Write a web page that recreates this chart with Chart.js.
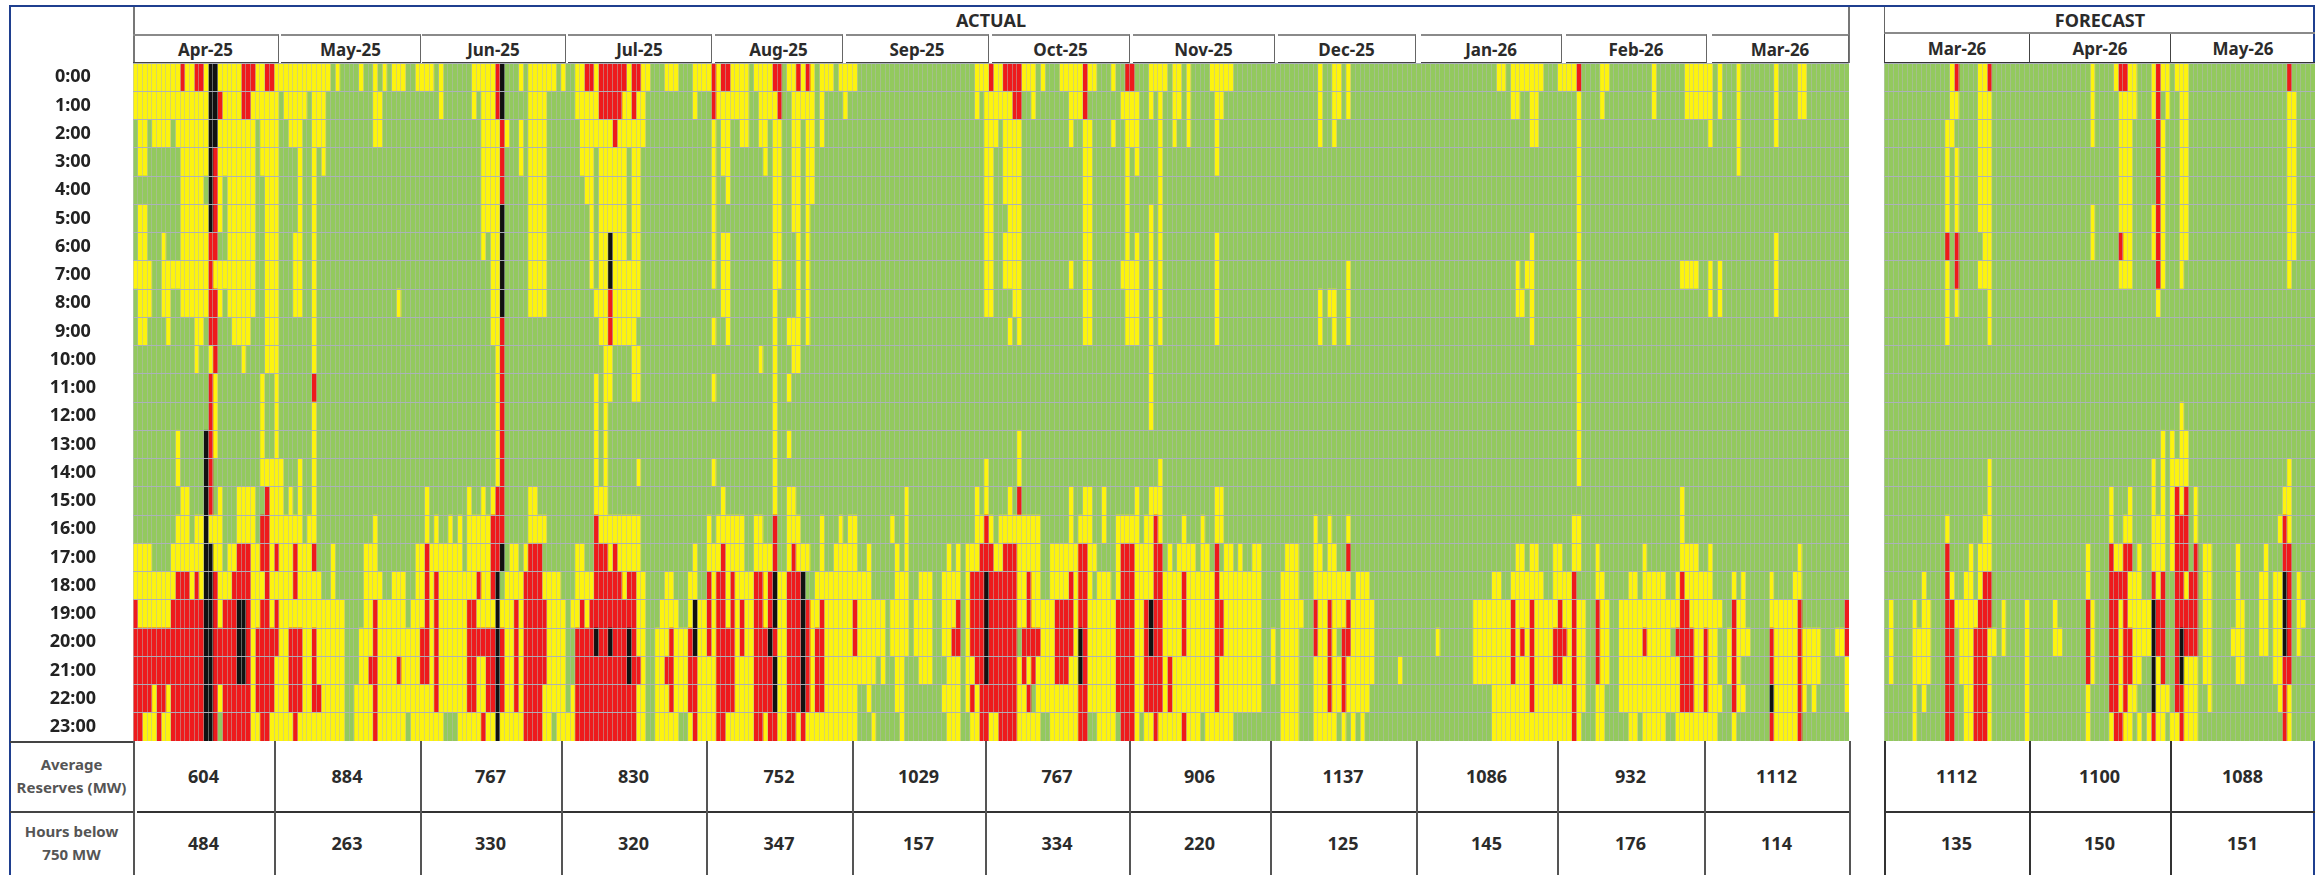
<!DOCTYPE html>
<html>
<head>
<meta charset="utf-8">
<title>Reserves heatmap</title>
<script src="https://cdn.jsdelivr.net/npm/chart.js@4/dist/chart.umd.min.js"></script>
<style>
  html, body { margin: 0; padding: 0; background: #fff; }
  body { width: 2323px; height: 875px; overflow: hidden; position: relative; font-family: "Noto Sans", sans-serif; }
  #frame { position: absolute; left: 9px; top: 5px; width: 2306px; height: 880px; border: 2px solid #1f3f8f; box-sizing: border-box; }
  .box { position: absolute; display: flex; align-items: center; justify-content: center; box-sizing: border-box; text-align: center; font-weight: 700; color: #2b2b2b; }
  .line { position: absolute; }
  .holder { position: absolute; }
</style>
</head>
<body>
<div id="frame"></div>
<div class="holder" style="left:10px;top:63px;width:1839px;height:678px"><canvas id="actualChart"></canvas></div>
<div class="holder" style="left:1884px;top:63px;width:431px;height:678px"><canvas id="forecastChart"></canvas></div>
<script>
const hours = ["0:00","1:00","2:00","3:00","4:00","5:00","6:00","7:00","8:00","9:00","10:00","11:00","12:00","13:00","14:00","15:00","16:00","17:00","18:00","19:00","20:00","21:00","22:00","23:00"];

const actualMonths = ["Apr-25","May-25","Jun-25","Jul-25","Aug-25","Sep-25","Oct-25","Nov-25","Dec-25","Jan-26","Feb-26","Mar-26"];
const actualReserves = [604, 884, 767, 830, 752, 1029, 767, 906, 1137, 1086, 932, 1112];
const actualHoursBelow = [484, 263, 330, 320, 347, 157, 334, 220, 125, 145, 176, 114];

const forecastMonths = ["Mar-26","Apr-26","May-26"];
const forecastReserves = [1112, 1100, 1088];
const forecastHoursBelow = [135, 150, 151];

// cells per hour, as day numbers counted from the left edge of each panel
const actualDays = 365;
const forecastDays = 92;

const actualYellow = [
  "0-41 43 48 51 53 55-57 60-63 65 72-76 82 84-89 91 94-95 98 105 108-109 113-115 119-122 124 127-130 132-135 139-140 142 144 146-148 150-153 179-181 183-184 189-191 193 197-201 203-204 208 216-219 221-222 224 229-233 252 255-256 258 290-291 293-299 303-306 312-313 323 330-335 337 341 349 354-355",
  "0-15 19-22 25-30 32-36 38-40 51-52 65 72 74-76 84-87 94-98 104-105 107-108 119 124-130 133-136 140-144 146 151 179 181-186 191 199-201 210-213 216 218 221-222 224 230-231 252 255-256 258 293-294 297-298 307 312 323 330-335 337 341 349 354-355",
  "1-2 4-7 9-15 18-25 27-30 33-35 38-40 51-52 74-77 79 82 84-87 95-101 103-108 123 125-126 129-130 133-134 136-137 140-141 143-144 146 181-183 185-188 199 202-203 208 211-213 218 221 224 230 252 255 297-298 307 335 341 349",
  "1-2 10-15 18-25 27-30 35 38 40 74-77 82 84-87 95-97 99-104 106-107 123 125-126 134 136-137 140-141 143-144 181-182 185-188 202-203 211 213 218 230 307 341",
  "10-14 18 20-25 28-30 35 38 74-77 84-87 96-97 99-104 106-107 123 126 136-137 140-141 143-144 181-182 185-188 202-203 211 218 307",
  "1-2 10-15 18 20-25 28-30 35 38 74-77 84-87 97 99-104 106-107 123 136-137 140-141 143 181-182 186-188 202-203 211 216 218 307",
  "1-2 6 10-15 20-25 28-30 34-35 38 74 76-77 84-87 97 99-100 102-104 106-107 123 125-126 136-137 141 143 181-182 185-188 202-203 211 213 216 218 230 297 307 349",
  "0-3 6-15 17-25 28-30 34-35 38 76-77 84-87 97 99-100 102-107 123 125-126 136-137 141 143 181-182 185-188 199 202-203 210-213 216 218 230 258 294 296-297 307 329-332 335 337 349",
  "1-3 6-7 10-15 18 20-25 28-30 34-35 38 56 76-77 84-87 98-100 102-107 125-126 136 141 143 181-182 187-188 202-203 211-213 216 218 230 252 254-255 258 294-295 297 307 335 337 349",
  "1-2 7 13-14 21-24 28-30 38 76-77 99-100 102-106 123 126 136 139-141 143 186 188 202-203 211-213 216 218 230 252 255 258 297 307",
  "13 16 23 28-30 38 77 100-101 106-107 133 136 140-141 216 307",
  "17 27 30 77 98 100-101 106-107 123 136 139 216 307",
  "17 27 30 38 77 98 100 136 216 307",
  "9 17 27 30 38 77 98 100 136 139 188 307",
  "9 27-31 35 38 77 98 100 107 123 136 181 188 218 307",
  "10-11 18 22-25 29-31 33 35 38 62 71 74 76 84-85 98-100 125 136 139-140 164 179 181 186 199 202-203 206 213 216-218 230-231 329",
  "9-11 13-14 16-18 22-25 29-35 37-38 51 62 64 67 69 71-75 84-87 99-107 122 124-129 132-133 139-141 146 150 152-153 161 164 179-180 182 184-192 199 201-203 206 209-213 215-216 218 223 227 230-231 251 254 258 306-307 329",
  "0-3 8-14 17-18 20-21 25-26 29 31-33 35-37 42 49-51 60-61 63-69 71-75 80-81 83 94-95 101 103-107 119 122-124 126-129 132-135 139 141-143 146 149-153 156 162 164 173 175 177-179 183-184 188-192 195-200 203-204 209 213-216 220 222-225 227-228 232-233 235 238-239 245-247 251-252 254-255 294-295 297-298 302-303 306-307 311 321 329-332 335 354",
  "0-8 12 14 18-20 25-27 29-33 35-39 42 49-52 55-57 60-61 63 65-72 74-76 79-82 87-90 94-97 104 107-108 113-114 118-119 123 126 128-131 134 137-138 145-156 162-164 167-169 172-175 177 188-189 191-192 195-198 200 203 205-207 209 213-216 219-222 224-229 231-239 244-247 251-258 260-262 289-290 293-299 302-305 311-312 318-319 321-325 328 330-335 340 342 348 353-354",
  "1-7 18 25-26 29 31-44 49-50 52-57 59-61 63 65-70 73-76 78-80 82 88-91 93-94 96 107-108 112-115 118 120-121 123 126 128 130-131 134 137-138 144-145 147-152 154-159 161-164 166-169 172-174 177 188-189 191-195 200 203-208 213-214 219-222 224-229 232-239 244-248 252-253 255-257 259-263 285-292 294-296 298-302 304-305 307-308 312-313 316-328 331-337 341-342 348-353",
  "25 31-32 36-37 39-44 48-50 52-60 63 65-70 79-80 82 88-91 107-108 111-113 115-117 120-121 123 128 130-131 137-138 144 147-152 154-159 161-164 166-169 172-173 177 193-195 200 203-208 213-214 219-222 224-229 232-239 242 244-247 252-253 255 259-263 277 285-292 294 296 298-301 305 307-308 312-313 316-320 322-326 332-333 335-336 339 341-343 349-353 355-358 362-363",
  "25 30-32 36-37 39-44 48-49 52-55 57-60 63 65-70 73-74 79-80 82 88-91 108 111-112 115-117 120-123 128-131 137-138 144 147-157 159 162-163 167-169 173-175 177-178 188 190 192-195 199-200 203-208 213-214 219 221-229 231-239 242 244-247 251-253 255-256 258-263 269 285-292 294-296 298-301 304-305 307-308 312-313 316-328 332-333 335-336 339 341 349-353 355-358 364",
  "4 7 18 25 30-32 36-37 40-44 47-50 52-63 65-70 73-74 79-80 82 87-91 93 107-108 111-113 115-117 120-123 128-131 137-138 144 147-153 156 162-163 172-175 177 179 188-189 192-200 203-208 213-214 219 221-229 231-239 244-247 251-253 255-256 258-262 289-296 298-305 307-308 311-312 316-328 332-333 335-337 341-342 349-353 355 357 364",
  "2-4 6-7 25-26 29-33 35-44 47-50 52-57 59-65 69-73 75-76 78-82 87-88 90-93 107-108 111-115 118 120-123 126-131 134 137-138 141 143-153 157 163 173-175 178-179 182-183 188-192 195-200 205-208 213 215-216 218-222 224-226 228-233 244-247 251-255 257 259 261 289-305 307 311-312 318-319 321-325 328-336 340 349-353"
];

const actualRed = [
  "10 13-14 23-25 28-29 77 96-97 99-104 106-107 123 125-126 136-137 141 143 182 185-188 202 211-212 307",
  "18 23-24 77 99-103 106 123 137 187-188 202",
  "78 102",
  "17 78",
  "17 78",
  "17",
  "16-17",
  "16",
  "16-17 101",
  "16-17 78 101",
  "17 78",
  "16 38 78",
  "16 78",
  "16 78",
  "16 78",
  "16 28 77-78 188",
  "27-28 76-78 98 136 181 217",
  "22-24 27-28 30 34 38 62 76-77 84-86 98-100 102 125 136 140 180-182 185-187 201-202 210-212 217-218 230 258",
  "9-11 13 17 21-24 28 34 62 64 73 76 83-86 98-103 105-106 122 124-125 127 132-133 135 139-141 178-187 190 199 201-202 210-212 217-218 223 230 306 329",
  "0 8-14 17 19-21 24 27-28 30 51 62 64 71-72 81 83-87 95 97-106 122 124-125 127 129 132-133 135 139-141 143 146 153 175 178-187 190 196-199 201-202 209-212 215-218 223 230-231 251 254 258 293 297 303 306 311 329-330 340 354 364",
  "0-14 17-21 24 26-30 33-35 38 51 61-62 64 71-76 78 81 83-87 94-97 99-100 102-104 106 114 118 122 124-127 129 132-134 136 139-141 143 145-146 153 174-175 178-180 182-187 189-192 196-199 202 209-212 215 217-218 223 230-231 251 254 257-258 293 295 297 302-304 306 311 321 328-331 334 340 348 354 364",
  "0-14 17-21 24 26-29 33-35 38 50-51 56 61-62 64 71-72 75-76 78 81 83-87 94-104 106-107 113-114 118-119 124-127 132-135 139-141 143 145-146 179-180 182-187 189 191 196-198 202 209-212 215-218 220 230 254 257 293 297 302-303 306 311 329-331 334 340 348 354",
  "0-3 5-6 8-14 17 19-24 26-29 33-35 38-39 51 64 71-72 75-76 78 81 83-86 94-106 114 118-119 124-127 132-135 139-141 143 145-146 178 180-187 190 201-202 209-212 215-218 220 230 254 257 297 306 329-331 334 340 354",
  "0-1 5 8-14 17 19-24 27-28 34 51 74 83-86 94-106 119 124-125 132-133 135-136 139-140 142 180-181 184-187 201-202 210-212 217 223 306 348 354"
];

const actualBlack = [
  "16-17 78", "16-17 78", "16-17", "16", "16", "16 78", "78 101", "78 101", "78", "", "", "",
  "", "15", "15", "15", "15", "15-16 78",
  "15-16 77 136 142 181",
  "15-16 22-23 77 119 136 142 181 216",
  "15-16 22-23 77 98 101 105 119 135 142 181 201 216",
  "15-16 22-23 77 105 136 142 181 201",
  "15-16 77 136 142 348",
  "15-16 77"
];

const forecastYellow = [
  "14 20-21 44 49 52-53 57 59-60 62-64",
  "14-15 20-22 44 50-53 57 60 63-64 86-87",
  "13-14 20-22 44 50-52 59 63-64 86-87",
  "13 15 20-22 50-52 59 63-64 86-87",
  "13 15 20-22 50-52 59 63-64 86-87",
  "13 15 20-22 44 50-52 57 59 63-64 86-87",
  "21-22 44 51-52 57 59 63-64 86-87",
  "13 20-22 50-52 59 63 86",
  "13 15 22 58",
  "13 22",
  "",
  "",
  "63",
  "59 61 63-64",
  "22 57 59 61-64 86",
  "22 48 52 57 59 61 63 66 85-86",
  "13 21-22 48 51-52 57-59 61 66 84 86",
  "18 20-22 43 49-50 54 57-59 61 68-69 75 81",
  "8 14 17-18 20 43 52-54 58 64 68-69 75 80-81 83-84 88",
  "1 6 8-9 15-19 25 30 36 44 50 52-56 68-69 75-76 80-81 83-84 88-89",
  "1 6-9 16-18 22-23 25 30 36-37 44 50 53-56 68-69 74-76 80-81 83-84 88",
  "1 6-9 16-18 22 30 44 50 53-54 58 64-66 68-69 75-76 83-84",
  "6 8 17-18 22 30 43 50 52-53 58-60 64-66 69 84 86",
  "6 17-18 22 30 43 48 51-52 54 56 58-59 61-62 64-66 86"
];

const forecastRed = [
  "15 22 50-51 58 86", "58", "58", "58", "58", "58", "13 15 50 58", "15 58", "", "", "", "",
  "", "", "",
  "62 64",
  "62-64 85",
  "13 48 51-52 62-64 66 85-86",
  "13 21-22 48-51 57 59 62-63 65-66 86",
  "13-14 20-22 43 48-49 51 58-59 62-66 86",
  "13-14 19-21 43 48-49 51-52 58-59 62 64-66 86",
  "13-14 19-21 43 48-49 51-52 59 62 85-86",
  "13-14 19-21 48-49 51 62-63 85",
  "13-14 19-21 49-50 57 63 85"
];

const forecastBlack = [
  "", "", "", "", "", "", "", "", "", "", "", "",
  "", "", "", "", "", "",
  "85",
  "57 85",
  "57 63 85",
  "57 63",
  "57",
  ""
];

const levelColors = ["#93c95e", "#fdf30f", "#ee1a1c", "#111111"];

// header and table edges in page pixels
const plotBottom = 741;
const rowSplit = 811;
const actualHeaderEdges = [[133,279],[281,421],[422,566],[568,712],[715,843],[846,989],[992,1130],[1133,1275],[1278,1416],[1421,1562],[1566,1707],[1712,1849]];
const actualTableEdges = [133,274,420,561,706,852,985,1129,1270,1416,1557,1704,1849];
const forecastEdges = [1884,2029,2170,2315];

function expandRuns(text, level, cells) {
  text.split(" ").filter(Boolean).forEach((run) => {
    const parts = run.split("-").map(Number);
    const end = parts.length > 1 ? parts[1] : parts[0];
    for (let day = parts[0]; day <= end; day++) cells[day] = level;
  });
}

function buildGrid(days, yellow, red, black) {
  return hours.map((hour, h) => {
    const cells = new Array(days).fill(0);
    expandRuns(yellow[h], 1, cells);
    expandRuns(red[h], 2, cells);
    expandRuns(black[h], 3, cells);
    return cells;
  });
}

function drawHeatmap(canvasId, days, grid, showHours) {
  const datasets = [];
  for (let day = 0; day < days; day++) {
    datasets.push({
      data: hours.map(() => 1),
      backgroundColor: hours.map((hour, h) => levelColors[grid[h][day]]),
      borderWidth: 0,
      barPercentage: 1,
      categoryPercentage: 1,
      stack: "days"
    });
  }
  new Chart(document.getElementById(canvasId), {
    type: "bar",
    data: { labels: hours, datasets: datasets },
    options: {
      indexAxis: "y",
      responsive: true,
      maintainAspectRatio: false,
      animation: false,
      events: [],
      layout: { padding: 0 },
      plugins: { legend: { display: false }, tooltip: { enabled: false } },
      scales: {
        x: {
          type: "linear",
          stacked: true,
          min: 0,
          max: days,
          ticks: { display: false, stepSize: 1 },
          border: { display: false },
          grid: { color: "rgba(180,185,180,0.5)", lineWidth: 1, drawTicks: false, z: 1 }
        },
        y: {
          stacked: true,
          border: { display: false },
          grid: { color: "rgba(172,176,190,0.95)", lineWidth: 1, drawTicks: false, offset: true, z: 1 },
          ticks: {
            display: showHours,
            autoSkip: false,
            crossAlign: "center",
            padding: 37,
            color: "#222",
            font: { family: "'Noto Sans'", size: 18, weight: "bold" }
          },
          afterFit: (scale) => {
            scale.width = showHours ? 123 : 0;
            scale.paddingTop = 0;
            scale.paddingBottom = 0;
          }
        }
      }
    }
  });
}

function addBox(left, top, right, bottom, text, css) {
  const el = document.createElement("div");
  el.className = "box";
  el.style.left = left + "px";
  el.style.top = top + "px";
  el.style.width = (right - left) + "px";
  el.style.height = (bottom - top) + "px";
  el.style.cssText += css || "";
  el.innerHTML = text;
  document.body.appendChild(el);
}

function addLine(left, top, right, bottom, color) {
  const el = document.createElement("div");
  el.className = "line";
  el.style.left = left + "px";
  el.style.top = top + "px";
  el.style.width = Math.max(right - left, 1.5) + "px";
  el.style.height = Math.max(bottom - top, 1.5) + "px";
  el.style.background = color;
  document.body.appendChild(el);
}

drawHeatmap("actualChart", actualDays, buildGrid(actualDays, actualYellow, actualRed, actualBlack), true);
drawHeatmap("forecastChart", forecastDays, buildGrid(forecastDays, forecastYellow, forecastRed, forecastBlack), false);

// headers
addBox(133, 7, 1849, 33, "ACTUAL", "font-size:18px;");
addLine(133, 7, 133, 63, "#777");
addLine(1848, 7, 1848, 63, "#777");
actualMonths.forEach((m, i) => {
  const [l, r] = actualHeaderEdges[i];
  addBox(l, 34, r, 63, m, "font-size:17px;border-top:2px solid #8a8a8a;border-right:1.5px solid #666;border-bottom:1.5px solid #444;");
});
addBox(1884, 7, 2315, 34, "FORECAST", "font-size:18px;border-left:1.5px solid #666;border-bottom:2px solid #8a8a8a;");
forecastMonths.forEach((m, i) => {
  addBox(forecastEdges[i], 34, forecastEdges[i + 1], 63, m, "font-size:17px;border-left:1.5px solid #444;border-bottom:1.5px solid #333;");
});

// bottom table
const tableFont = "font-size:18px;";
addBox(10, plotBottom, 133, rowSplit, "Average<br>Reserves (MW)", "font-size:15px;line-height:23px;color:#555;");
addBox(10, rowSplit, 133, 875, "Hours below<br>750 MW", "font-size:15px;line-height:23px;color:#555;");
actualReserves.forEach((v, i) => addBox(actualTableEdges[i], plotBottom, actualTableEdges[i + 1], rowSplit, v, tableFont));
actualHoursBelow.forEach((v, i) => addBox(actualTableEdges[i], rowSplit, actualTableEdges[i + 1], 875, v, tableFont));
forecastReserves.forEach((v, i) => addBox(forecastEdges[i], plotBottom, forecastEdges[i + 1], rowSplit, v, tableFont));
forecastHoursBelow.forEach((v, i) => addBox(forecastEdges[i], rowSplit, forecastEdges[i + 1], 875, v, tableFont));

addLine(10, plotBottom, 133, plotBottom, "#444");
addLine(10, rowSplit, 133, rowSplit, "#444");
addLine(137, rowSplit, 1849, rowSplit, "#333");
addLine(1884, rowSplit, 2315, rowSplit, "#333");
actualTableEdges.forEach((x) => addLine(x, plotBottom, x, 875, "#555"));
forecastEdges.slice(0, 3).forEach((x) => addLine(x, plotBottom, x, 875, "#333"));
</script>
</body>
</html>
